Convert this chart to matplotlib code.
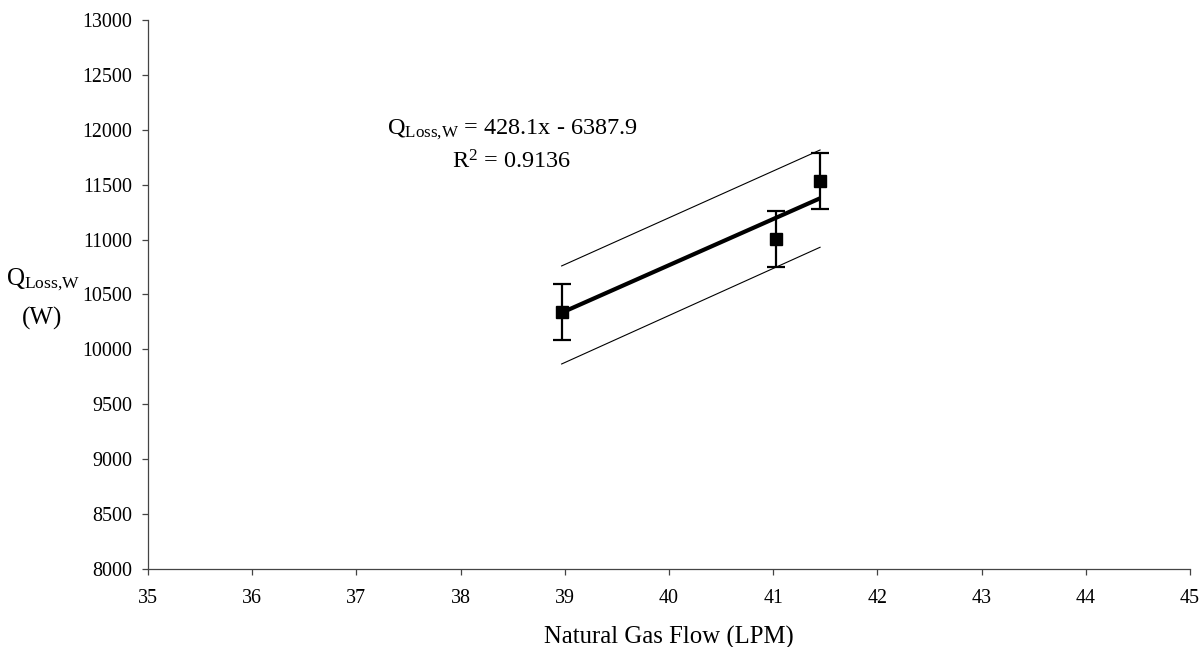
import matplotlib
matplotlib.use("Agg")
import matplotlib.pyplot as plt

plt.rcParams['font.family'] = ['Liberation Serif', 'DejaVu Serif']
plt.rcParams['mathtext.fontset'] = 'custom'
plt.rcParams['mathtext.rm'] = 'Liberation Serif'
plt.rcParams['mathtext.it'] = 'Liberation Serif'

# data
flow = [38.97, 41.03, 41.45]
q_loss = [10343, 11005, 11533]
q_err = [255, 255, 255]

fit_x = [38.97, 41.45]
fit_y = [10334, 11376]
upper_y = [10760, 11816]
lower_y = [9867, 10930]

x_ticks = list(range(35, 46))
y_ticks = list(range(8000, 13001, 500))

fig = plt.figure(figsize=(12.02, 6.47), dpi=100)
ax = fig.add_axes([0.1231, 0.1206, 0.8669, 0.8485])

ax.plot(fit_x, upper_y, color='black', lw=0.8)
ax.plot(fit_x, lower_y, color='black', lw=0.8)
ax.plot(fit_x, fit_y, color='black', lw=3.0, solid_capstyle='butt')
ax.errorbar(flow, q_loss, yerr=q_err, fmt='s', color='black', ms=8.5,
            elinewidth=1.6, capsize=6.5, capthick=1.6)

ax.set_xlim(35, 45)
ax.set_ylim(8000, 13000)
ax.set_xticks(x_ticks)
ax.set_yticks(y_ticks)
for s in ['top', 'right']:
    ax.spines[s].set_visible(False)
for s in ['left', 'bottom']:
    ax.spines[s].set_color('#444444')
    ax.spines[s].set_linewidth(0.9)
ax.tick_params(axis='both', direction='out', length=4.5, width=0.9,
               color='#444444', labelsize=14.4)
ax.tick_params(axis='x', pad=10)
ax.tick_params(axis='y', pad=7)

ax.set_xlabel('Natural Gas Flow (LPM)', fontsize=17.8, labelpad=13)
fig.text(0.036, 0.567, r'Q$_{\mathrm{Loss{,}W}}$', fontsize=18, ha='center', va='center')
fig.text(0.035, 0.508, '(W)', fontsize=18, ha='center', va='center')

fig.text(0.426, 0.800, r'Q$_{\mathrm{Loss{,}W}}$ = 428.1x - 6387.9', fontsize=17.5,
         ha='center', va='center')
fig.text(0.426, 0.750, r'R$^{2}$ = 0.9136', fontsize=17.5, ha='center', va='center')

fig.savefig('out.png', dpi=100)
